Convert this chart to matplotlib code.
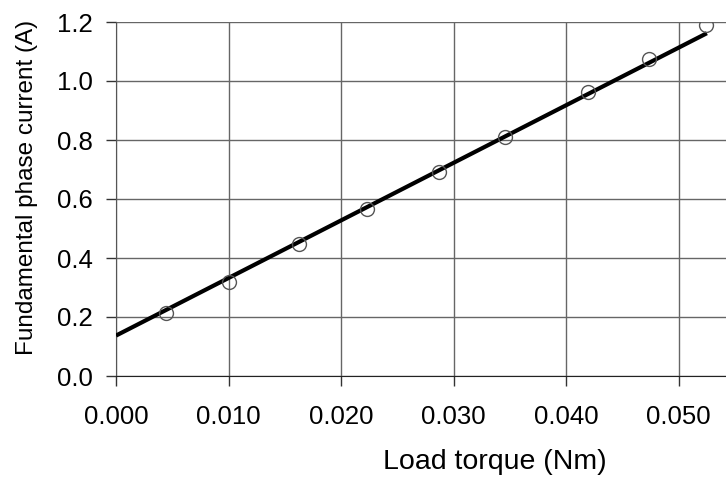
import numpy as np
import matplotlib
matplotlib.use('Agg')
import matplotlib.pyplot as plt
from matplotlib.ticker import FormatStrFormatter

plt.rcParams['font.family'] = ['Liberation Sans', 'DejaVu Sans']

# measured points
torque = [0.0044, 0.0100, 0.0163, 0.0223, 0.0287, 0.0346, 0.0419, 0.0474, 0.0524]
current = [0.212, 0.318, 0.446, 0.566, 0.690, 0.811, 0.962, 1.073, 1.189]

# linear fit endpoints
fit_torque = [0.0, 0.0525]
fit_current = [0.137, 1.162]

x_ticks = [0.0, 0.01, 0.02, 0.03, 0.04, 0.05]
y_ticks = [0.0, 0.2, 0.4, 0.6, 0.8, 1.0, 1.2]

fig = plt.figure(figsize=(7.26, 4.79), dpi=100)
ax = fig.add_axes([116 / 726, 1 - 376 / 479, 1 - 116 / 726, (376 - 22) / 479])

ax.plot(fit_torque, fit_current, color='black', lw=3.0, zorder=3, solid_capstyle='butt')
ax.plot(torque, current, 'o', mfc='none', mec='#555555', ms=10, mew=1.0, zorder=4)

ax.set_xlim(0, 0.0542)
ax.set_ylim(0, 1.2)
ax.set_xticks(x_ticks)
ax.set_yticks(y_ticks)
ax.xaxis.set_major_formatter(FormatStrFormatter('%.3f'))
ax.yaxis.set_major_formatter(FormatStrFormatter('%.1f'))

ax.grid(True, color='#666666', lw=1.0)
ax.set_axisbelow(True)
for s in ['top', 'right']:
    ax.spines[s].set_visible(False)
ax.spines['left'].set_color('#555555')
ax.spines['bottom'].set_color('#222222')

ax.tick_params(axis='both', direction='out', length=7, width=1, labelsize=18.5,
               colors='#333333', labelcolor='black')
ax.tick_params(axis='x', pad=14)
ax.tick_params(axis='y', pad=10)

ax.set_xlabel('Load torque (Nm)', fontsize=20.5)
ax.xaxis.set_label_coords(0.621, -0.205)
ax.set_ylabel('Fundamental phase current (A)', fontsize=17.5)
ax.yaxis.set_label_coords(-0.128, 0.534)

fig.savefig('out.png', dpi=100)
